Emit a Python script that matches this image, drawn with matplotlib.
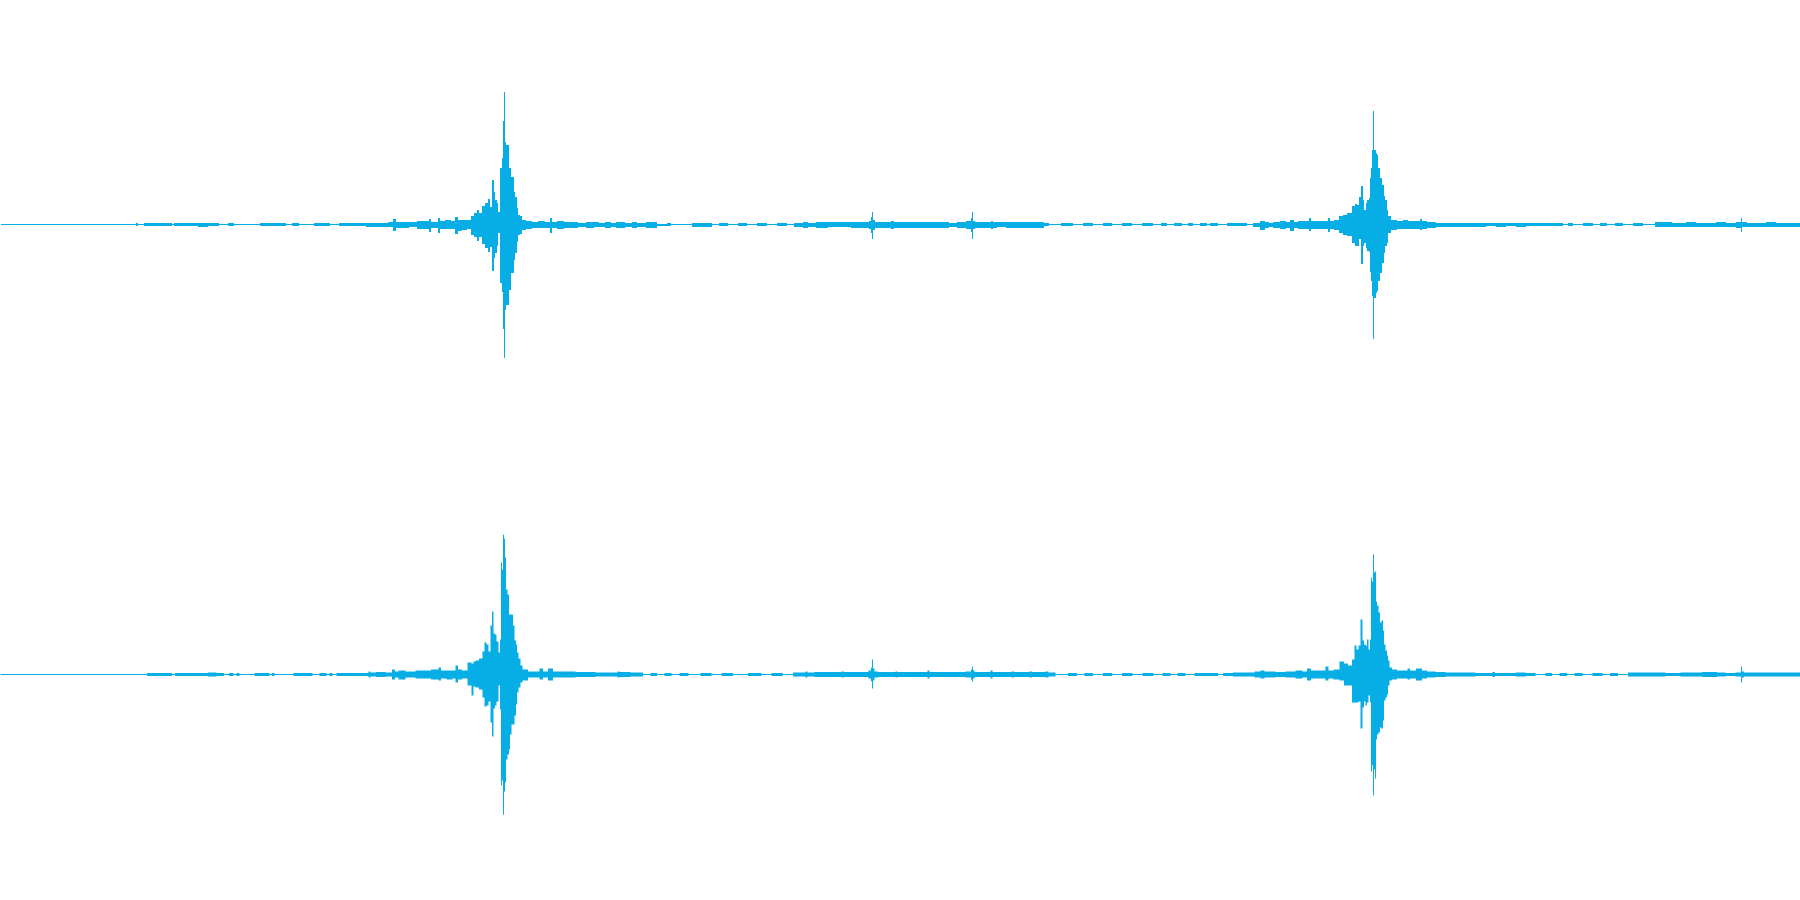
import numpy as np
import matplotlib
matplotlib.use("Agg")
import matplotlib.pyplot as plt

# waveform envelope
# each row: (column, peak above zero, peak below zero), amplitude full scale = 225
FULL_SCALE = 225
WAVE_COLOR = "#07aee5"

left_intro = [
    (0, .5, .5), (135, .5, .5), (136, 1.5, 1.5), (139, .5, .5), (147, 1.5, 1.5),
    (170, 1.5, 1.5), (172, .5, .5), (175, 1.5, 1.5), (195, 1.5, 1.5), (200, 2, 2),
    (215, 1.5, 1.5), (222, .5, .5), (232, 1.5, 1.5), (234, .5, .5), (284, 1.5, 1.5),
    (286, .5, .5), (297, 1.5, 1.5), (299, .5, .5), (328, 1.5, 1.5), (331, .5, .5),
    (346, 1.5, 1.5), (360, 1.5, 1.5), (370, 2, 2), (385, 2, 2), (390, 2.5, 2.5),
    (394, 6, 6), (396, 3, 3), (405, 3, 3), (412, 3, 2), (420, 4, 4), (427, 4, 4),
    (429, 6, 7), (432, 3, 3), (436, 3, 3), (438, 7, 8), (441, 4, 4), (448, 5, 4),
    (452, 4, 4), (456, 8, 9), (459, 5, 6), (464, 5, 5), (469, 5, 4),
]
left_hit1 = [
    (472, 9, 10), (475, 12, 12), (477, 15, 16), (480, 12, 12), (483, 19, 19),
    (486, 22, 23), (488, 26, 27), (490, 18, 22), (492, 45, 46), (494, 33, 33),
    (495, 25, 28), (497, 22, 21), (498, 13, 8), (500, 57, 58), (502, 67, 67),
    (503, 104, 104), (504, 133, 133), (505, 83, 85), (506, 80, 80), (508, 80, 80),
    (509, 57, 65), (512, 48, 48), (514, 33, 35), (515, 28, 28), (517, 17, 17),
    (518, 10, 10), (520, 9, 9), (523, 5, 5), (528, 4, 4), (535, 3, 3), (540, 4, 3),
    (548, 3, 3), (550, 7, 8), (553, 3, 3), (560, 4, 4), (567, 3, 3), (575, 3, 3),
    (580, 2, 2), (590, 3, 3), (597, 2.5, 2.5),
]
left_middle = [
    (600, 2, 2), (609, 3, 3), (612, 2, 2), (618, 3, 3), (630, 2, 2), (633, 3, 3),
    (640, 2, 2), (650, 3, 3), (663, 1, 1), (669, 1.5, 1.5), (672, .5, .5),
    (710, 2, 2), (713, .5, .5), (724, 1.5, 1.5), (730, .5, .5), (745, 1.5, 1.5),
    (748, .5, .5), (765, 1.5, 1.5), (768, .5, .5), (785, 1.5, 1.5), (788, .5, .5),
    (799, 2, 2), (805, 3, 3), (810, 2, 2), (820, 3, 3), (835, 2.5, 2.5),
    (866, 3, 3), (870, 4, 4), (871, 8, 8), (872, 13, 14), (873, 5, 5), (875, 3, 3),
    (890, 3, 3), (891, 4, 4), (895, 3, 3), (910, 3, 3), (925, 3, 3), (945, 3, 3),
    (952, 2, 2), (960, 3, 3), (970, 4, 4), (971, 7, 7), (972, 13, 14), (973, 4, 4),
    (975, 3, 3), (989, 3, 3), (991, 4, 4), (993, 3, 3), (1000, 2.5, 2.5),
    (1010, 3, 3), (1020, 3, 3), (1030, 3, 3), (1040, 3, 3), (1046, 1.5, 1.5),
    (1050, .5, .5), (1070, 1.5, 1.5), (1075, .5, .5), (1090, 1.5, 1.5),
    (1095, .5, .5), (1110, 1.5, 1.5), (1112, .5, .5), (1130, 1.5, 1.5),
    (1133, .5, .5), (1150, 1.5, 1.5), (1155, .5, .5), (1165, 1.5, 1.5),
    (1168, .5, .5), (1178, 1.5, 1.5), (1184, .5, .5), (1190, 1.5, 1.5),
    (1194, .5, .5), (1205, 1.5, 1.5), (1207, .5, .5), (1212, 1.5, 1.5),
    (1222, .5, .5), (1230, 1.5, 1.5), (1245, 1.5, 1.5), (1248, .5, .5),
]
left_hit2 = [
    (1257, 2, 2), (1262, 4, 5), (1266, 3, 3), (1270, 2, 2), (1275, 3, 3),
    (1283, 4, 4), (1287, 3, 3), (1292, 5, 6), (1295, 3, 3), (1300, 4, 4),
    (1307, 4, 4), (1309, 7, 6), (1312, 4, 4), (1320, 4, 4), (1326, 4, 4),
    (1328, 7, 7), (1331, 4, 4), (1336, 5, 5), (1341, 9, 8), (1343, 10, 10),
    (1349, 12, 11), (1353, 19, 18), (1355, 21, 21), (1357, 20, 21), (1359, 28, 14),
    (1361, 39, 39), (1363, 25, 21), (1364, 15, 18), (1366, 22, 23), (1367, 25, 26),
    (1369, 27, 27), (1370, 47, 47), (1371, 57, 56), (1372, 75, 71), (1373, 114, 114),
    (1374, 75, 73), (1376, 72, 68), (1377, 70, 66), (1378, 57, 56), (1380, 47, 48),
    (1382, 40, 38), (1384, 29, 28), (1385, 25, 21), (1387, 15, 18), (1388, 9, 8),
    (1392, 5, 5), (1400, 4, 4), (1405, 5, 4), (1410, 4, 4), (1418, 4, 4),
    (1420, 6, 5), (1423, 4, 4), (1430, 3, 3), (1440, 2, 2),
]
left_tail = [
    (1450, 2, 2), (1460, 2, 2), (1470, 2, 2), (1480, 2, 2), (1490, 1.5, 1.5),
    (1500, 2, 2), (1510, 1.5, 1.5), (1520, 2, 2), (1530, 1.5, 1.5), (1545, 1.5, 1.5),
    (1560, 1.5, 1.5), (1565, .5, .5), (1570, 1.5, 1.5), (1575, .5, .5),
    (1590, 1.5, 1.5), (1594, .5, .5), (1605, 1.5, 1.5), (1608, .5, .5),
    (1620, 1.5, 1.5), (1625, .5, .5), (1640, 1.5, 1.5), (1645, .5, .5),
    (1663, 2.5, 2.5), (1680, 2, 2), (1690, 2.5, 2.5), (1700, 2, 2), (1710, 2, 2),
    (1720, 2.5, 2.5), (1730, 2, 2), (1740, 3, 3), (1741, 7, 7), (1742, 2.5, 2.5),
    (1750, 2, 2), (1760, 2, 2), (1770, 2.5, 2.5), (1780, 2, 2), (1790, 2, 2),
    (1800, 2, 2),
]

right_intro = [
    (0, .5, .5), (146, .5, .5), (147, 1.5, 1.5), (170, 1.5, 1.5), (173, .5, .5),
    (176, 1.5, 1.5), (205, 1.5, 1.5), (210, 2, 2), (222, 1.5, 1.5), (225, .5, .5),
    (232, 1.5, 1.5), (234, .5, .5), (238, 1.5, 1.5), (240, .5, .5), (268, 1.5, 1.5),
    (270, .5, .5), (273, 1.5, 1.5), (275, .5, .5), (311, 1.5, 1.5), (313, .5, .5),
    (325, 1.5, 1.5), (327, .5, .5), (331, 1.5, 1.5), (333, .5, .5), (339, 1.5, 1.5),
    (367, 1.5, 1.5), (369, 3, 3), (371, 2, 2), (380, 2.5, 2.5), (390, 2, 2),
    (393, 5, 5), (396, 3, 3), (400, 4, 5), (410, 3, 3), (420, 4, 4), (429, 4, 4),
    (432, 5, 5), (437, 5, 5), (439, 7, 6), (442, 4, 4), (450, 4, 5), (454, 4, 4),
    (456, 9, 8), (459, 5, 5), (464, 4, 4),
]
right_hit1 = [
    (470, 12, 11), (472, 11, 21), (474, 13, 12), (476, 14, 13), (481, 16, 15),
    (483, 23, 23), (485, 32, 32), (487, 30, 31), (489, 23, 27), (491, 49, 48),
    (492, 63, 62), (494, 41, 34), (495, 40, 31), (497, 33, 27), (499, 22, 11),
    (500, 35, 35), (501, 112, 111), (502, 105, 106), (503, 140, 140), (504, 136, 117),
    (505, 117, 108), (506, 85, 85), (508, 80, 80), (509, 60, 75), (510, 60, 60),
    (512, 60, 50), (513, 49, 50), (515, 34, 41), (516, 30, 30), (517, 22, 18),
    (519, 16, 13), (521, 9, 8), (523, 5, 6), (532, 3, 3), (538, 3, 3), (540, 6, 5),
    (545, 3, 3), (550, 6, 6), (555, 3, 3), (570, 3, 3), (580, 2.5, 2.5),
    (590, 2.5, 2.5),
]
right_middle = [
    (600, 2, 2), (616, 2, 2), (618, 3, 3), (620, 2.5, 2.5), (640, 2, 2), (645, .5, .5),
    (655, 1.5, 1.5), (658, .5, .5), (670, 1.5, 1.5), (672, .5, .5), (686, 1.5, 1.5),
    (690, .5, .5), (710, 1.5, 1.5), (712, .5, .5), (730, 1.5, 1.5), (735, .5, .5),
    (760, 1.5, 1.5), (762, .5, .5), (780, 1.5, 1.5), (785, .5, .5), (800, 2, 2),
    (804, 2, 2), (806, 3, 3), (808, 2, 2), (820, 2.5, 2.5), (840, 2.5, 2.5),
    (842, 3, 3), (845, 2.5, 2.5), (866, 2.5, 2.5), (870, 4, 4), (871, 7, 7),
    (872, 15, 14), (873, 6, 6), (875, 3, 3), (880, 2.5, 2.5), (894, 2.5, 2.5),
    (896, 3, 3), (898, 2.5, 2.5), (926, 2.5, 2.5), (928, 4, 4), (930, 2.5, 2.5),
    (945, 2.5, 2.5), (960, 2.5, 2.5), (970, 3, 3), (971, 5, 5), (972, 8, 7),
    (973, 4, 4), (975, 2.5, 2.5), (989, 2.5, 2.5), (991, 4, 4), (993, 2.5, 2.5),
    (1010, 2.5, 2.5), (1012, 3, 3), (1015, 2.5, 2.5), (1028, 2.5, 2.5), (1030, 3, 3),
    (1033, 2.5, 2.5), (1044, 2.5, 2.5), (1046, 3, 3), (1050, 2, 2), (1060, .5, .5),
    (1075, 1.5, 1.5), (1078, .5, .5), (1090, 1.5, 1.5), (1095, .5, .5),
    (1110, 1.5, 1.5), (1113, .5, .5), (1130, 1.5, 1.5), (1134, .5, .5),
    (1150, 1.5, 1.5), (1156, .5, .5), (1168, 1.5, 1.5), (1172, .5, .5),
    (1182, 1.5, 1.5), (1188, .5, .5), (1200, 1.5, 1.5), (1215, 1.5, 1.5),
    (1220, .5, .5), (1225, 1.5, 1.5), (1240, 2, 2), (1250, 2, 2),
]
right_hit2 = [
    (1258, 3, 3), (1262, 4, 4), (1266, 3, 3), (1270, 3, 3), (1280, 2.5, 2.5),
    (1290, 3, 3), (1300, 4, 4), (1304, 3, 3), (1309, 6, 6), (1312, 4, 4),
    (1320, 4, 4), (1324, 4, 4), (1326, 8, 6), (1330, 4, 4), (1336, 5, 5),
    (1342, 13, 6), (1345, 11, 11), (1350, 9, 11), (1353, 15, 28), (1355, 29, 28),
    (1357, 25, 28), (1359, 29, 27), (1361, 55, 54), (1363, 34, 33), (1364, 30, 27),
    (1366, 29, 31), (1367, 35, 28), (1369, 25, 21), (1370, 35, 28), (1371, 97, 97),
    (1372, 93, 91), (1373, 120, 121), (1374, 102, 95), (1375, 103, 104),
    (1376, 73, 65), (1377, 69, 60), (1379, 62, 58), (1380, 52, 53), (1382, 54, 54),
    (1383, 44, 46), (1384, 30, 26), (1386, 24, 23), (1387, 19, 20), (1388, 14, 11),
    (1390, 7, 6), (1393, 5, 5), (1400, 4, 4), (1406, 4, 4), (1408, 6, 5),
    (1411, 4, 4), (1420, 6, 6), (1423, 4, 4), (1430, 3, 3), (1440, 2.5, 2.5),
]
right_tail = [
    (1450, 2, 2), (1460, 2, 2), (1470, 2, 2), (1480, 1.5, 1.5), (1491, 1.5, 1.5),
    (1493, 2.5, 2.5), (1496, 1.5, 1.5), (1510, 1.5, 1.5), (1520, 2, 2),
    (1530, 1.5, 1.5), (1540, .5, .5), (1550, 1.5, 1.5), (1553, .5, .5),
    (1565, 1.5, 1.5), (1568, .5, .5), (1580, 1.5, 1.5), (1584, .5, .5),
    (1600, 1.5, 1.5), (1604, .5, .5), (1615, 1.5, 1.5), (1620, .5, .5),
    (1635, 2, 2), (1660, 2, 2), (1670, 1.5, 1.5), (1690, 2, 2), (1713, 2.5, 2.5),
    (1720, 2, 2), (1730, 1.5, 1.5), (1740, 2, 2), (1741, 8, 8), (1742, 3, 3),
    (1745, 2, 2), (1760, 2, 2), (1775, 2, 2), (1790, 2, 2), (1800, 2, 2),
]

left_channel = left_intro + left_hit1 + left_middle + left_hit2 + left_tail
right_channel = right_intro + right_hit1 + right_middle + right_hit2 + right_tail


def draw_channel(ax, rows):
    env = np.array(rows, dtype=float)
    x, up, down = env[:, 0], env[:, 1], env[:, 2]
    # columns sit on whole pixels: shift by half a column / half a row
    ax.fill_between(x + 0.5, -down, up, step="mid", color=WAVE_COLOR, linewidth=0)
    ax.set_xlim(0, 1800)
    ax.set_ylim(-FULL_SCALE - 0.5, FULL_SCALE - 0.5)
    ax.axis("off")


fig = plt.figure(figsize=(18, 9), dpi=100)
ax_top = fig.add_axes([0, 0.5, 1, 0.5])
ax_bottom = fig.add_axes([0, 0, 1, 0.5])
draw_channel(ax_top, left_channel)
draw_channel(ax_bottom, right_channel)

fig.savefig("out.png", dpi=100, facecolor="white")
